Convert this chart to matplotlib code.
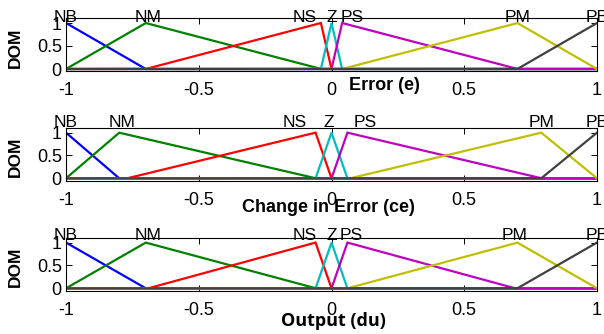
import numpy as np
import matplotlib
matplotlib.use("Agg")
import matplotlib.pyplot as plt

plt.rcParams['font.family'] = ['Liberation Sans', 'DejaVu Sans']

mf_names = ["NB", "NM", "NS", "Z", "PS", "PM", "PB"]
mf_colors = ["#0000ff", "#008000", "#ff0000", "#00bfbf", "#bf00bf", "#bfbf00", "#404040"]

# triangle parameters (left foot, peak, right foot) for each panel
err_a = [-1.30, -1.00, -0.70, -0.04, 0.00, 0.04, 0.70]
err_b = [-1.00, -0.70, -0.04, 0.00, 0.04, 0.70, 1.00]
err_c = [-0.70, -0.04, 0.00, 0.04, 0.70, 1.00, 1.30]
err_lbl_x = [-1.0, -0.69, -0.10, 0.0, 0.077, 0.70, 1.0]

ce_a = [-1.20, -1.00, -0.77, -0.06, 0.00, 0.07, 0.79]
ce_b = [-1.00, -0.80, -0.06, 0.00, 0.06, 0.79, 1.00]
ce_c = [-0.80, -0.06, 0.00, 0.06, 0.79, 1.00, 1.20]
ce_lbl_x = [-1.0, -0.79, -0.137, -0.01, 0.126, 0.79, 1.0]

du_a = [-1.30, -1.00, -0.69, -0.06, 0.00, 0.06, 0.70]
du_b = [-1.00, -0.70, -0.06, 0.00, 0.06, 0.70, 1.00]
du_c = [-0.70, -0.06, 0.00, 0.06, 0.69, 1.00, 1.30]
du_lbl_x = [-1.0, -0.69, -0.10, 0.0, 0.076, 0.69, 1.0]

x_ticks = [-1, -0.5, 0, 0.5, 1]
x_tick_labels = ["-1", "-0.5", "0", "0.5", "1"]
y_ticks = [0, 0.5, 1]
y_tick_labels = ["0", "0.5", "1"]


def trimf(x, a, b, c):
    left = np.where(b > a, (x - a) / (b - a + 1e-12), 1.0)
    right = np.where(c > b, (c - x) / (c - b + 1e-12), 1.0)
    return np.clip(np.minimum(left, right), 0, 1)


W, H = 604, 334
fig = plt.figure(figsize=(W / 100, H / 100), dpi=100)

panels = [
    (err_a, err_b, err_c, err_lbl_x, 1.03, 18.4, 71.3, "Error (e)", (384.5, 90.0), 'Liberation Sans', 47.5),
    (ce_a, ce_b, ce_c, ce_lbl_x, 1.12, 128.1, 180.6, "Change in Error (ce)", (328.0, 211.7), 'Liberation Sans', 157.0),
    (du_a, du_b, du_c, du_lbl_x, 1.06, 238.0, 290.6, "Output (du)", (333.0, 325.7), 'Open Sans', 267.0),
]

left_px, right_px = 66, 597
xs = np.linspace(-1, 1, 4001)

for a_l, b_l, c_l, lbl_x, lbl_y, top, bot, xlabel, (lx, ly), lfont, dom_y in panels:
    ax = fig.add_axes([left_px / W, 1 - bot / H, (right_px - left_px) / W, (bot - top) / H])
    for name, col, a, b, c in zip(mf_names, mf_colors, a_l, b_l, c_l):
        ax.plot(xs, trimf(xs, a, b, c), color=col, lw=1.6, solid_joinstyle='miter')
    for name, tx in zip(mf_names, lbl_x):
        ax.text(tx, lbl_y, name, ha='center', va='baseline', fontsize=12.5, clip_on=False)
    ax.set_xlim(-1, 1)
    ax.set_ylim(-0.05, 1.1)
    ax.set_xticks(x_ticks)
    ax.set_xticklabels(x_tick_labels)
    ax.set_yticks(y_ticks)
    ax.set_yticklabels(y_tick_labels)
    ax.tick_params(direction='in', length=4, width=0.7, top=True, right=True,
                   labelsize=13)
    ax.tick_params(axis='x', pad=8)
    ax.tick_params(axis='y', pad=3)
    for s in ax.spines.values():
        s.set_linewidth(0.8)
    fig.text(lx / W, 1 - ly / H, xlabel, ha='center', va='baseline',
             fontsize=13, fontweight='bold', family=lfont)
    fig.text(15 / W, 1 - dom_y / H, "DOM", ha='center', va='center', rotation=90,
             fontsize=12.5, fontweight='bold')

fig.savefig("out.png", dpi=100)
